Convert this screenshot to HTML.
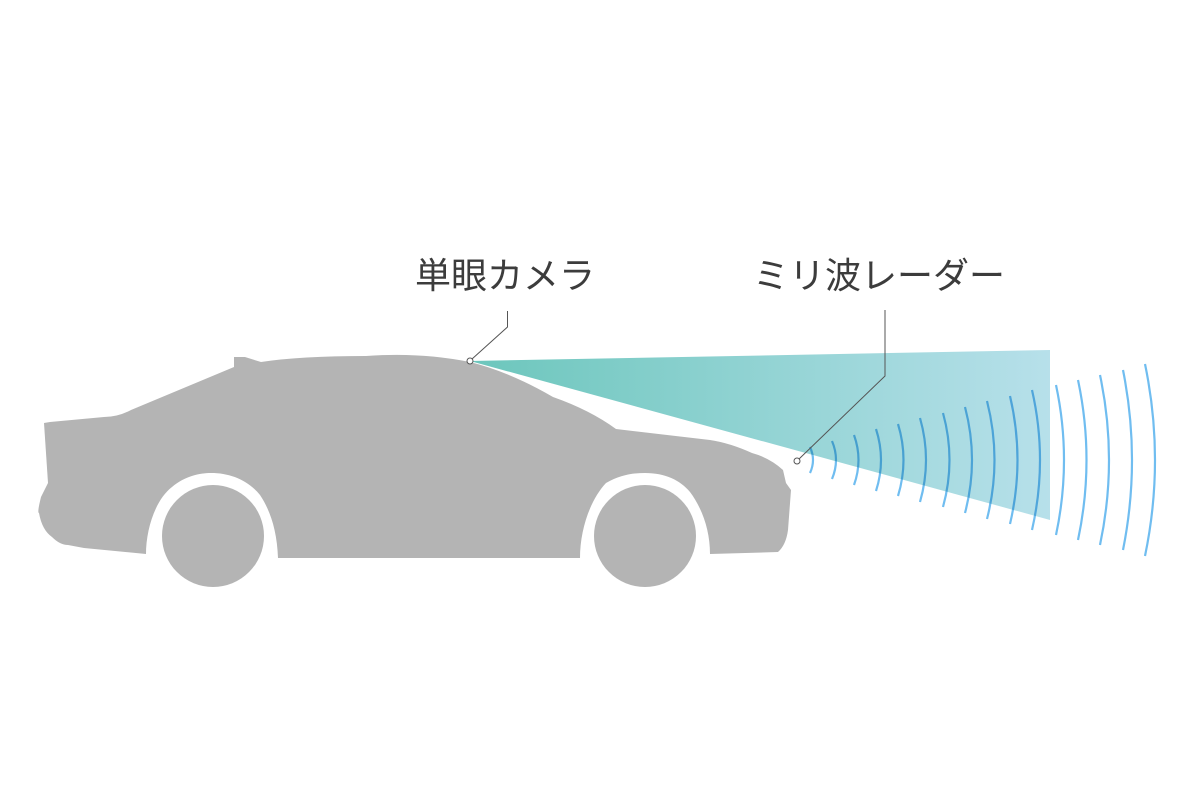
<!DOCTYPE html>
<html><head><meta charset="utf-8"><style>
html,body{margin:0;padding:0;background:#fff;width:1200px;height:800px;overflow:hidden}
svg{display:block}
text{font-family:"Liberation Sans","Noto Sans CJK JP",sans-serif;font-size:36px;fill:#3c3c3c}
</style></head><body>
<svg width="1200" height="800" viewBox="0 0 1200 800">
<defs>
<linearGradient id="g" x1="470" y1="0" x2="1050" y2="0" gradientUnits="userSpaceOnUse">
<stop offset="0" stop-color="#6cc6bc"/><stop offset="1" stop-color="#b7e0ea"/>
</linearGradient>
</defs>
<path fill="#b4b4b4" d="M44,423 L48,483 L41,497 Q37,513 39,513 Q42,530 52,537 Q60,545 68,545 L84,548 L146,554
C146,530 155,500 172,487 C185,476 200,473 211,473 C230,473 248,480 260,495 C270,510 277,530 278,558
L580,558 C580,530 590,500 606,483 C620,475 632,473 645,473 C665,473 680,480 690,492 C702,508 710,530 710,554
L778,552 Q786,545 788,530 L791,490 L786,483 L783,470 Q770,458 752,453 Q730,443 710,440 L616,429
Q590,410 553,397 Q510,372 470,362 Q420,352 366,356 Q300,356 261,362 L245,357 L234,357 L234,367 L131,410 Q118,417 104,417 L50,422 Z"/>
<ellipse cx="213" cy="536" rx="51" ry="51" fill="#b4b4b4"/>
<ellipse cx="645" cy="536" rx="51" ry="51" fill="#b4b4b4"/>
<polygon points="470,361 1050,350 1050,520" fill="url(#g)"/>
<g fill="none" stroke="#70bdf0" stroke-width="2.2" style="mix-blend-mode:multiply">
<path d="M810,447 Q816,460 810,473"/>
<path d="M832,441 Q840,460 832,479"/>
<path d="M854,435 Q863,460 854,485"/>
<path d="M876,429 Q886,460 876,491"/>
<path d="M898,424 Q909,460 898,496"/>
<path d="M920,418 Q932,460 920,502"/>
<path d="M943,413 Q956,460 943,507"/>
<path d="M965,407 Q979,460 965,513"/>
<path d="M987,401 Q1002,460 987,519"/>
<path d="M1010,396 Q1025,460 1010,524"/>
<path d="M1032,390 Q1048,460 1032,530"/>
<path d="M1056,385 Q1072,460 1056,535"/>
<path d="M1078,380 Q1095,460 1078,540"/>
<path d="M1100,375 Q1118,460 1100,545"/>
<path d="M1123,370 Q1141,460 1123,550"/>
<path d="M1145,364 Q1165,460 1145,556"/>
</g>
<g fill="none" stroke="#555" stroke-width="1">
<polyline points="507.5,311 507.5,327 472,359"/>
<polyline points="885,310 885,376 799,459"/>
<circle cx="470" cy="361" r="3" fill="#fff"/>
<circle cx="797" cy="461" r="3" fill="#fff"/>
</g>
<text x="415" y="288">単眼カメラ</text>
<text x="753" y="288">ミリ波レーダー</text>
</svg>
</body></html>
